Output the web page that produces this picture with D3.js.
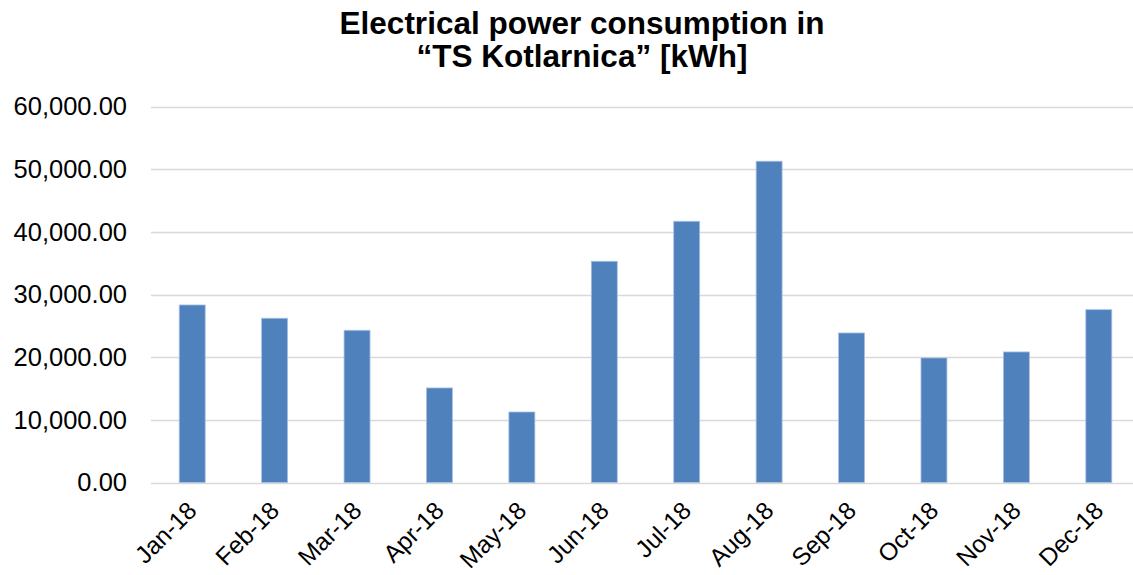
<!DOCTYPE html>
<html>
<head>
<meta charset="utf-8">
<script src="https://cdn.jsdelivr.net/npm/d3@7"></script>
<style>
  html, body { margin: 0; padding: 0; background: #ffffff; }
  svg { display: block; }
  text { font-family: "Liberation Sans", Arial, sans-serif; fill: #000000; }
</style>
</head>
<body>
<svg id="chart" width="1133" height="575"></svg>
<script>
// Monthly consumption, 2018
const months = ["Jan-18", "Feb-18", "Mar-18", "Apr-18", "May-18", "Jun-18",
                "Jul-18", "Aug-18", "Sep-18", "Oct-18", "Nov-18", "Dec-18"];
const consumption = [28350, 26230, 24310, 15100, 11260, 35330,
                     41720, 51310, 23880, 19890, 20850, 27600];
const yTicks = [0, 10000, 20000, 30000, 40000, 50000, 60000];
const titleLines = ["Electrical power consumption in", "\u201CTS Kotlarnica\u201D [kWh]"];

const svg = d3.select("#chart");
const W = 1133, H = 575;
const plot = { left: 151, right: 1140, top: 106.8, bottom: 482.5 };

const x = d3.scaleBand()
  .domain(months)
  .range([plot.left, plot.right])
  .paddingInner(0.685)
  .paddingOuter(0.3425);

const y = d3.scaleLinear()
  .domain([0, 60000])
  .range([plot.bottom, plot.top]);

// Title
svg.append("g")
  .selectAll("text")
  .data(titleLines)
  .join("text")
  .attr("x", 582)
  .attr("y", (d, i) => 33.5 + i * 33.5)
  .attr("text-anchor", "middle")
  .style("font-size", "31.5px")
  .style("font-weight", "bold")
  .text(d => d);

// Horizontal gridlines
svg.append("g")
  .selectAll("line")
  .data(yTicks)
  .join("line")
  .attr("x1", plot.left)
  .attr("x2", W)
  .attr("y1", d => Math.round(y(d)) + 0.5)
  .attr("y2", d => Math.round(y(d)) + 0.5)
  .attr("stroke", "#d9d9d9")
  .attr("stroke-width", 1.4);

// Y axis labels
const yAxis = d3.axisLeft(y)
  .tickValues(yTicks)
  .tickFormat(d3.format(",.2f"))
  .tickSize(0)
  .tickPadding(0);

svg.append("g")
  .attr("transform", "translate(127,0)")
  .call(yAxis)
  .call(g => g.select(".domain").remove())
  .call(g => g.selectAll("text")
    .style("font-size", "25.5px")
    .style("font-family", "'Liberation Sans', Arial, sans-serif")
    .attr("fill", "#000"));

// Bars
svg.append("g")
  .selectAll("rect")
  .data(months.map((m, i) => ({ m, v: consumption[i] })))
  .join("rect")
  .attr("x", d => x(d.m))
  .attr("width", x.bandwidth())
  .attr("y", d => y(d.v))
  .attr("height", d => y(0) - y(d.v))
  .attr("fill", "#4f81bd")
  .attr("stroke", "#a7c0e2")
  .attr("stroke-width", 0.8);

// X axis labels, rotated
const xAxis = d3.axisBottom(x).tickSize(0).tickPadding(0);
svg.append("g")
  .attr("transform", `translate(0,${plot.bottom})`)
  .call(xAxis)
  .call(g => g.select(".domain").remove())
  .call(g => g.selectAll("text")
    .style("font-size", "24.5px")
    .style("font-family", "'Liberation Sans', Arial, sans-serif")
    .attr("fill", "#000")
    .attr("text-anchor", "end")
    .attr("dy", null)
    .attr("y", 0)
    .attr("transform", "translate(6,29.5) rotate(-45)"));
</script>
</body>
</html>
